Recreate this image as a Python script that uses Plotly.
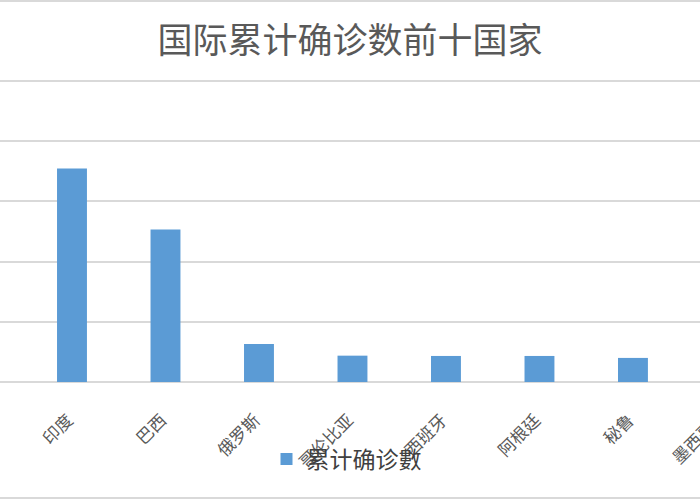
import plotly.graph_objects as go

# Data (cumulative confirmed cases)
countries = ['印度', '巴西', '俄罗斯', '哥伦比亚', '西班牙', '阿根廷', '秘鲁', '墨西哥']
cases = [7090000, 5070000, 1265000, 875000, 865000, 865000, 800000, 790000]

title_text = '国际累计确诊数前十国家'
series_name = '累计确诊數'

# visible window of the category axis (chart is cropped on both sides)
x_range = [-0.77, 6.717]
y_range = [0, 10100000]
y_step = 2000000

grid_col = '#d9d9d9'
text_col = '#595959'

fig = go.Figure()

fig.add_trace(go.Bar(
    x=list(range(len(countries))),
    y=cases,
    name=series_name,
    width=0.32,
    marker=dict(color='#5b9bd5', line=dict(width=0)),
    showlegend=True,
))

fig.update_layout(
    width=700,
    height=500,
    margin=dict(l=0, r=0, t=78, b=118, autoexpand=False),
    paper_bgcolor='white',
    plot_bgcolor='white',
    font=dict(family='Noto Sans CJK SC', color=text_col),
    title=dict(
        text=title_text,
        x=0.5, xanchor='center',
        y=1 - 41 / 500, yanchor='middle', yref='container',
        font=dict(size=35, color=text_col, family='Noto Sans CJK SC'),
    ),
    xaxis=dict(
        range=x_range,
        tickmode='array',
        tickvals=list(range(len(countries))),
        ticktext=countries,
        tickangle=-45,
        tickfont=dict(size=17, color=text_col),
        ticklabelstandoff=24,
        ticklabelshift=-4,
        showgrid=False,
        zeroline=False,
        showline=False,
        ticks='',
        automargin=False,
    ),
    yaxis=dict(
        range=y_range,
        dtick=y_step,
        showticklabels=False,
        showgrid=True,
        gridcolor=grid_col,
        gridwidth=1.5,
        zeroline=True,
        zerolinecolor=grid_col,
        zerolinewidth=1.5,
        ticks='',
        automargin=False,
    ),
    showlegend=True,
    legend=dict(
        orientation='h',
        x=0.495, xanchor='center',
        y=1 - 459 / 500, yanchor='middle', yref='container',
        bgcolor='rgba(0,0,0,0)',
        font=dict(size=23, color='#404040'),
    ),
)

# outer chart frame (top and bottom edges are visible in the crop)
plot_h = 500 - 78 - 118
for py in [1, 498]:
    yp = (500 - 118 - py) / plot_h
    fig.add_shape(type='line', xref='paper', yref='paper',
                  x0=0, x1=1, y0=yp, y1=yp,
                  line=dict(color=grid_col, width=2))

# label of the last visible category, whose tick falls just past the right edge
last_i = len(countries) - 1
fig.add_annotation(
    x=(last_i - x_range[0]) / (x_range[1] - x_range[0]),
    y=0, xref='paper', yref='paper',
    text=countries[last_i],
    textangle=-45,
    showarrow=False,
    xanchor='right', yanchor='top',
    xshift=-4, yshift=-30,
    font=dict(size=17, color=text_col),
)

# drop the default page margin so the figure fills the window exactly
fig.write_html('out.html', config={'displayModeBar': False},
               post_script="document.body.style.margin='0';")
